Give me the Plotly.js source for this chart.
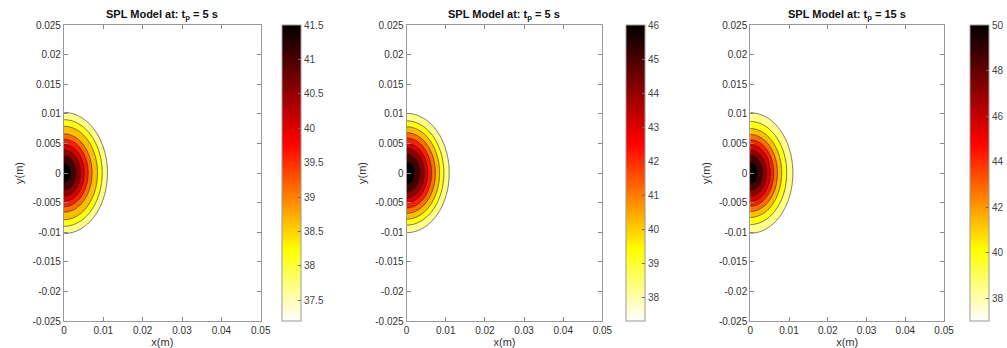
<!DOCTYPE html>
<html><head><meta charset="utf-8">
<script src="https://cdn.plot.ly/plotly-3.0.1.min.js"></script>
<style>html,body{margin:0;padding:0;background:#fff}#chart{width:1007px;height:348px}</style>
</head><body><div id="chart"></div>
<script>
// ---- data ----
const panelTimes = ['5 s', '5 s', '15 s'];

// SPL (dB) vs distance from the source (m), read at each contour ring (along y)
const radius1 = [0, 0.0017, 0.0029, 0.0039, 0.0048, 0.0057, 0.0066, 0.0079, 0.0090, 0.01025, 0.0107];
const spl1    = [41.7, 41.5, 41.0, 40.5, 40.0, 39.5, 39.0, 38.5, 38.0, 37.5, 37.2];

const radius2 = [0, 0.0020, 0.0032, 0.0042, 0.0050, 0.0059, 0.0068, 0.0078, 0.0088, 0.0101, 0.0106];
const spl2    = [46.2, 46.0, 45.0, 44.0, 43.0, 42.0, 41.0, 40.0, 39.0, 38.0, 37.3];

const radius3 = [0, 0.0019, 0.0030, 0.0039, 0.0048, 0.0056, 0.0065, 0.0075, 0.0087, 0.0102, 0.0107];
const spl3    = [50.3, 50.0, 48.5, 47.0, 45.5, 44.0, 42.5, 41.0, 39.5, 38.0, 37.0];

// the rings reach slightly further along x than along y
const xStretch = 1.08;

// contour levels (start, end, step) per panel
const levelStart = [37.5, 38, 38];
const levelEnd   = [41.5, 46, 50];
const levelStep  = [0.5, 1, 1.5];

// colour bar ranges and ticks
const cbMin = [37.2, 37.3, 37.0];
const cbMax = [41.5, 46.0, 50.0];
const cbTicks1 = [37.5, 38, 38.5, 39, 39.5, 40, 40.5, 41, 41.5];
const cbTicks2 = [38, 39, 40, 41, 42, 43, 44, 45, 46];
const cbTicks3 = [38, 40, 42, 44, 46, 48, 50];

// axis ticks
const xTicks = [0, 0.01, 0.02, 0.03, 0.04, 0.05];
const xTickText = ['0', '0.01', '0.02', '0.03', '0.04', '0.05'];
const yTicks = [-0.025, -0.02, -0.015, -0.01, -0.005, 0, 0.005, 0.01, 0.015, 0.02, 0.025];
const yTickText = ['-0.025', '-0.02', '-0.015', '-0.01', '-0.005', '0', '0.005', '0.01', '0.015', '0.02', '0.025'];

// ---- build the grid table for the contour traces ----
function sampleCoords(lo, hi, fineLo, fineHi, step) {
  const out = [];
  if (lo < fineLo) { out.push(lo); }
  if (lo < fineLo - 0.003) out.push(fineLo - 0.003);
  const n = Math.round((fineHi - fineLo) / step);
  for (let i = 0; i <= n; i++) out.push(+(fineLo + i * step).toFixed(6));
  const extra = [fineHi + 0.003, hi];
  extra.forEach(v => { if (v > out[out.length - 1] && v <= hi) out.push(v); });
  return out;
}
const gx = sampleCoords(0, 0.05, 0, 0.015, 0.0002);
const gy = sampleCoords(-0.025, 0.025, -0.014, 0.014, 0.0002);

function lookup(r, radii, vals) {
  if (r >= radii[radii.length - 1]) return vals[vals.length - 1];
  for (let i = 1; i < radii.length; i++) {
    if (r <= radii[i]) {
      const t = (r - radii[i - 1]) / (radii[i] - radii[i - 1]);
      return vals[i - 1] + t * (vals[i] - vals[i - 1]);
    }
  }
  return vals[vals.length - 1];
}
function buildZ(radii, vals) {
  return gy.map(y => gx.map(x => {
    const xs = x / xStretch;
    return lookup(Math.sqrt(xs * xs + y * y), radii, vals);
  }));
}

const hotScale = [[0, '#ffffff'], [0.24, '#ffff00'], [0.6, '#ff0000'], [1, '#000000']];

const radii = [radius1, radius2, radius3];
const spls = [spl1, spl2, spl3];
const cbTicks = [cbTicks1, cbTicks2, cbTicks3];

// layout geometry (pixels in a 1007x348 page)
const W = 1007, H = 348;
const plotLeft = [64, 407, 751], plotRight = [261, 603, 945];
const plotTop = 25, plotBottom = 321;
const cbLeft = [282, 626, 970];

const font = 'Liberation Sans, Arial, sans-serif';
const traces = [];
const layout = {
  width: W, height: H,
  margin: {l: 0, r: 0, t: 0, b: 0},
  paper_bgcolor: '#ffffff', plot_bgcolor: '#ffffff',
  showlegend: false,
  font: {family: font, size: 10, color: '#333333'},
  annotations: []
};

for (let k = 0; k < 3; k++) {
  const ax = k === 0 ? '' : String(k + 1);
  traces.push({
    type: 'contour', x: gx, y: gy, z: buildZ(radii[k], spls[k]),
    xaxis: 'x' + ax, yaxis: 'y' + ax,
    autocontour: false,
    contours: {start: levelStart[k], end: levelEnd[k], size: levelStep[k], coloring: 'fill', showlines: true},
    line: {color: 'rgba(30,30,30,0.85)', width: 0.7, smoothing: 1},
    colorscale: hotScale, showscale: false, hoverinfo: 'skip'
  });
  traces.push({
    type: 'scatter', mode: 'markers', x: [0.03, 0.03], y: [0, 0],
    xaxis: 'x' + ax, yaxis: 'y' + ax, hoverinfo: 'skip', showlegend: false,
    marker: {
      color: [cbMin[k], cbMax[k]], cmin: cbMin[k], cmax: cbMax[k], colorscale: hotScale,
      size: 1, opacity: 0, showscale: true,
      colorbar: {
        x: cbLeft[k] / W, xanchor: 'left', xpad: 0, ypad: 0,
        y: (H - plotBottom) / H, yanchor: 'bottom',
        len: (plotBottom - plotTop) / H, lenmode: 'fraction',
        thickness: 19, thicknessmode: 'pixels',
        outlinecolor: '#999999', outlinewidth: 1, borderwidth: 0,
        tickmode: 'array', tickvals: cbTicks[k], ticktext: cbTicks[k].map(String),
        ticks: 'inside', ticklen: 3, tickcolor: '#666666',
        tickfont: {family: font, size: 10, color: '#444444'}
      }
    }
  });
  const xa = {
    domain: [plotLeft[k] / W, plotRight[k] / W], range: [0, 0.05], anchor: 'y' + ax,
    tickmode: 'array', tickvals: xTicks, ticktext: xTickText,
    ticks: 'inside', ticklen: 4, tickcolor: '#888888', mirror: 'ticks',
    showline: true, linecolor: '#999999', linewidth: 1,
    showgrid: false, zeroline: false,
    tickfont: {family: font, size: 10, color: '#333333'},
    title: {text: 'x(m)', font: {family: font, size: 11, color: '#333333'}, standoff: 2}
  };
  const ya = {
    domain: [(H - plotBottom) / H, (H - plotTop) / H], range: [-0.025, 0.025], anchor: 'x' + ax,
    tickmode: 'array', tickvals: yTicks, ticktext: yTickText,
    ticks: 'inside', ticklen: 4, tickcolor: '#888888', mirror: 'ticks',
    showline: true, linecolor: '#999999', linewidth: 1,
    showgrid: false, zeroline: false,
    tickfont: {family: font, size: 10, color: '#333333'},
    title: {text: 'y(m)', font: {family: font, size: 11, color: '#333333'}, standoff: 6}
  };
  layout['xaxis' + ax] = xa;
  layout['yaxis' + ax] = ya;
  layout.annotations.push({
    xref: 'paper', yref: 'paper',
    x: (plotLeft[k] + plotRight[k]) / 2 / W, y: (H - 6) / H,
    xanchor: 'center', yanchor: 'top', showarrow: false,
    text: '<b>SPL Model at: t<sub>p</sub> = ' + panelTimes[k] + '</b>',
    font: {family: font, size: 11, color: '#111111'}
  });
}

Plotly.newPlot('chart', traces, layout, {displayModeBar: false, staticPlot: true});
</script>
</body></html>
